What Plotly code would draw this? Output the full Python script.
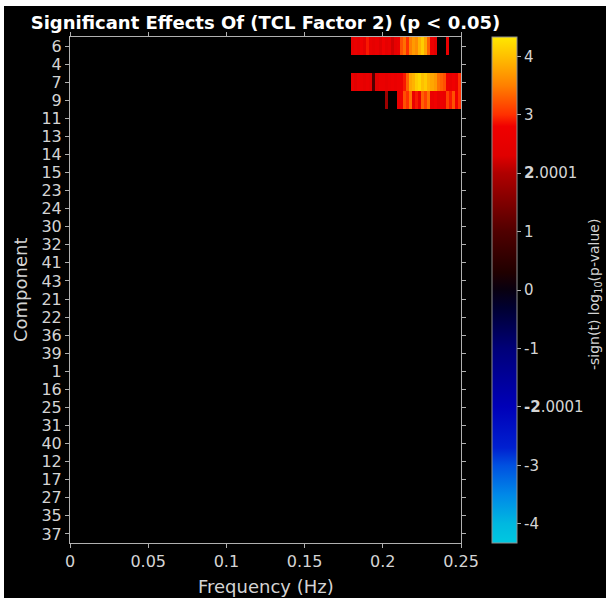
import numpy as np
import plotly.graph_objects as go

# ---- data ----
components = ["6", "4", "7", "9", "11", "13", "14", "15", "23", "24", "30", "32", "41", "43",
              "21", "22", "36", "39", "1", "16", "25", "31", "40", "12", "17", "27", "35", "37"]
n_bins = 128
freq_max = 0.25

# significant -sign(t) log10(p) values per component, starting at a frequency bin index
row6_start = 92
row6_vals = [2.5, 2.6, 2.5, 2.8, 2.5, 2.9, 2.6, 2.5, 2.6, 2.3, 2.8, 2.5, 2.6, 2.2, 2.5, 2.6,
             3.2, 3.4, 3.0, 3.5, 3.7, 3.6, 3.9, 4.1, 3.8, 3.3, 2.7, 2.4, None, None, None, 2.6]
row7_start = 92
row7_vals = [2.6, 2.4, 2.6, 2.6, 2.5, 2.6, 2.5, 1.0, 2.4, 2.6, 2.6, 2.5, 2.6, 2.7, 2.6, 2.7,
             2.7, 2.9, 3.3, 3.8, 3.9, 4.1, 4.2, 4.0, 4.1, 3.9, 3.8, 3.7, 3.4, 3.3, 3.2, 2.7,
             2.6, 2.8, 2.6, 3.0]
row9_start = 103
row9_vals = [1.8, None, None, None, 2.6, 2.7, 3.2, 3.0, 3.4, 2.6, 2.9, 2.6, 3.3, 3.1, 3.4,
             2.6, 2.8, 2.5, 2.7, 2.6, 3.1, 2.9, 3.2, 2.8, 3.0]

cbar_ticks = [4, 3, 2.0001, 1, 0, -1, -2.0001, -3, -4]
cbar_ticktext = ["4", "3", "<b>2</b>.0001", "1", "0", "-1", "<b>-2</b>.0001", "-3", "-4"]
x_ticks = [0, 0.05, 0.1, 0.15, 0.2, 0.25]
x_ticktext = ["0", "0.05", "0.1", "0.15", "0.2", "0.25"]
zlim = 4.33

# ---- build matrix ----
df = freq_max / n_bins
freqs = (np.arange(n_bins) + 0.5) * df
z = [[None] * n_bins for _ in components]
for comp, start, vals in [("6", row6_start, row6_vals), ("7", row7_start, row7_vals),
                          ("9", row9_start, row9_vals)]:
    r = components.index(comp)
    for i, v in enumerate(vals):
        z[r][start + i] = v

def t(v):
    return (v + zlim) / (2 * zlim)

stops = [(-4.33, "#00c8e0"), (-4.0, "#00b8e0"), (-3.5, "#0088e8"), (-3.0, "#0050e0"),
         (-2.7, "#0020d0"), (-2.0, "#0000b8"), (-1.0, "#000078"), (-0.3, "#000030"),
         (0.0, "#080010"), (0.3, "#200000"), (1.0, "#500000"), (2.0, "#b00000"),
         (2.3, "#e00000"), (2.8, "#f00000"), (3.0, "#ff3000"), (3.5, "#ff8000"),
         (4.0, "#ffc000"), (4.33, "#ffe800")]
colorscale = [[t(v), c] for v, c in stops]

FONT = "DejaVu Sans"
TXT = "#d4d4d4"
AX = "#b0b0b0"

fig = go.Figure(go.Heatmap(
    x=freqs, y=components, z=z, zmin=-zlim, zmax=zlim, colorscale=colorscale,
    hoverongaps=False,
    colorbar=dict(
        x=(488 - 66) / 391, xanchor="left", xpad=0, thickness=25,
        len=1, lenmode="fraction", y=0, yanchor="bottom", ypad=0,
        outlinecolor="#909090", outlinewidth=1,
        tickmode="array", tickvals=cbar_ticks, ticktext=cbar_ticktext,
        ticks="outside", ticklen=4, tickcolor=AX,
        tickfont=dict(family=FONT, size=15, color=TXT),
    ),
))

fig.update_layout(
    width=602, height=592,
    margin=dict(l=66, r=145, t=31, b=55),
    paper_bgcolor="black", plot_bgcolor="black",
    font=dict(family=FONT, color=TXT),
    title=dict(text="<b>Significant Effects Of (TCL Factor 2) (p < 0.05)</b>",
               x=0.5, xref="paper", xanchor="center",
               y=1 - 17 / 592, yref="container", yanchor="middle",
               font=dict(family=FONT, size=18, color="white")),
    xaxis=dict(range=[0, freq_max], tickmode="array", tickvals=x_ticks, ticktext=x_ticktext,
               showline=True, linecolor=AX, linewidth=1, mirror="ticks",
               ticks="outside", ticklen=4, tickcolor=AX, showgrid=False, zeroline=False,
               tickfont=dict(family=FONT, size=16, color=TXT)),
    yaxis=dict(autorange="reversed", type="category",
               tickmode="array", tickvals=components, ticktext=components,
               showline=True, linecolor=AX, linewidth=1, mirror="ticks",
               ticks="outside", ticklen=4, tickcolor=AX, showgrid=False, zeroline=False,
               tickfont=dict(family=FONT, size=16, color=TXT)),
    annotations=[
        dict(text="Frequency (Hz)", x=0.5, y=1 - (580 - 31) / 506, xref="paper", yref="paper",
             showarrow=False, xanchor="center", yanchor="middle",
             font=dict(family=FONT, size=18, color=TXT)),
        dict(text="Component", x=(16 - 66) / 391, y=0.5, xref="paper", yref="paper",
             showarrow=False, textangle=-90, xanchor="center", yanchor="middle",
             font=dict(family=FONT, size=18, color=TXT)),
        dict(text="-sign(t) log<sub>10</sub>(p-value)", x=(591 - 66) / 391, y=0.49,
             xref="paper", yref="paper", showarrow=False, textangle=-90,
             xanchor="center", yanchor="middle",
             font=dict(family=FONT, size=14, color=TXT)),
    ],
)

post = ("var g=document.getElementById('{plot_id}');"
        "document.body.style.margin='0';document.body.style.background='white';"
        "g.style.marginTop='6px';g.style.marginLeft='4px';")
fig.write_html("out.html", post_script=post)
